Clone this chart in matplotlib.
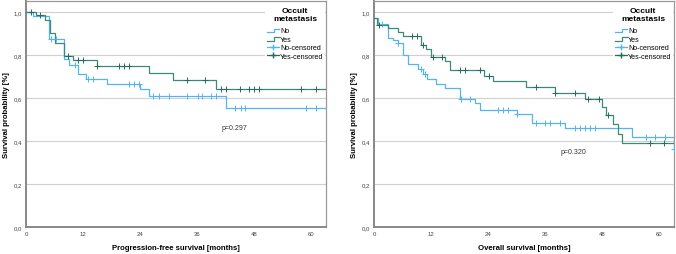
import numpy as np
import matplotlib
matplotlib.use("Agg")
import matplotlib.pyplot as plt
from matplotlib.lines import Line2D
from matplotlib.legend_handler import HandlerBase
from matplotlib.ticker import FuncFormatter

plt.rcParams['font.family'] = ['Liberation Sans', 'DejaVu Sans']

# ---------------- data ----------------
# Progression-free survival
pfs_no_t = [0, 1.5, 4.9, 7.9, 9.0, 11.0, 12.6, 17.0, 24.0, 25.9, 42.1]
pfs_no_s = [1.0, 0.98, 0.875, 0.78, 0.755, 0.71, 0.69, 0.665, 0.64, 0.61, 0.555]
pfs_no_cens = [5.3, 6.3, 10.3, 13.0, 14.2, 21.8, 22.8, 23.8, 26.8, 28.0, 30.2, 34.0,
               36.2, 37.0, 38.9, 40.1, 44.1, 45.2, 46.1, 59.0, 61.0]
pfs_yes_t = [0, 2.1, 4.0, 5.0, 6.1, 8.0, 10.0, 15.0, 26.0, 31.0, 40.1]
pfs_yes_s = [1.0, 0.985, 0.964, 0.90, 0.857, 0.797, 0.777, 0.75, 0.718, 0.685, 0.644]
pfs_yes_cens = [1.0, 3.0, 8.9, 10.9, 12.0, 15.0, 19.6, 20.6, 21.7, 34.0, 37.8,
                41.1, 42.2, 45.0, 47.0, 48.0, 49.1, 58.0, 61.0]
pfs_end = 63.2
pfs_p = "p=0.297"

# Overall survival
os_no_t = [0, 0.8, 2.9, 4.0, 5.1, 6.1, 7.2, 9.2, 10.3, 11.2, 13.1, 15.0, 18.2,
           21.2, 22.3, 30.2, 33.2, 40.3, 54.3, 63.2]
os_no_s = [0.97, 0.945, 0.88, 0.87, 0.855, 0.80, 0.758, 0.733, 0.71, 0.688, 0.665,
           0.645, 0.593, 0.578, 0.546, 0.526, 0.484, 0.459, 0.42, 0.362]
os_no_cens = [1.6, 5.1, 10.0, 10.7, 18.4, 20.2, 26.2, 27.2, 28.2, 30.2, 34.2, 36.0,
              37.0, 39.2, 42.4, 43.5, 44.4, 45.4, 46.5, 57.2, 59.3, 61.2, 63.2]
os_yes_t = [0, 0.7, 3.0, 5.1, 6.2, 9.9, 10.9, 12.1, 15.0, 16.0, 23.1, 25.1, 32.1,
            38.1, 44.4, 48.0, 48.9, 50.3, 51.3, 52.2]
os_yes_s = [0.97, 0.94, 0.924, 0.907, 0.886, 0.845, 0.827, 0.792, 0.774, 0.728,
            0.703, 0.679, 0.650, 0.622, 0.595, 0.557, 0.521, 0.48, 0.433, 0.39]
os_yes_cens = [1.0, 7.9, 9.0, 10.3, 12.4, 14.3, 18.1, 19.2, 22.3, 24.2, 34.2, 38.2,
               42.3, 45.0, 47.3, 49.2, 58.2, 61.0]
os_end = 63.2
os_p = "p=0.320"

xticks = [0, 12, 24, 36, 48, 60]
yticks = [0.0, 0.2, 0.4, 0.6, 0.8, 1.0]
legend_title = "Occult\nmetastasis"
legend_labels = ["No", "Yes", "No-censored", "Yes-censored"]

C_NO = "#56b4ec"
C_YES = "#3b8a7a"
C_YES_C = "#2a6a5c"

# ---------------- helpers ----------------
class StepHandler(HandlerBase):
    def __init__(self, color):
        super().__init__()
        self.color = color

    def create_artists(self, legend, orig_handle, xdescent, ydescent, width, height,
                       fontsize, trans):
        x0 = -xdescent
        xs = [x0, x0 + width * 0.55, x0 + width * 0.55, x0 + width]
        ys = [height * 0.05, height * 0.05, height * 0.75, height * 0.75]
        ln = Line2D(xs, ys, color=self.color, lw=0.9, transform=trans)
        return [ln]


def surv_at(t_arr, s_arr, tc):
    idx = np.searchsorted(np.asarray(t_arr), np.asarray(tc), side='right') - 1
    return np.asarray(s_arr)[idx]


def panel(ax, no_t, no_s, no_c, yes_t, yes_s, yes_c, t_end, ptxt, pxy, xlabel):
    for t, s, c, cc in [(no_t, no_s, no_c, C_NO), (yes_t, yes_s, yes_c, C_YES)]:
        tt = list(t) + [t_end]
        ss = list(s) + [s[-1]]
        ax.step(tt, ss, where='post', color=cc, lw=0.9, zorder=3)
    ax.plot(no_c, surv_at(no_t, no_s, no_c), ls='none', marker='+', ms=4,
            mew=0.7, color=C_NO, zorder=4)
    ax.plot(yes_c, surv_at(yes_t, yes_s, yes_c), ls='none', marker='+', ms=4,
            mew=0.7, color=C_YES_C, zorder=4)

    ax.set_xlim(0, 63.2)
    ax.set_ylim(0, 1.051)
    ax.set_xticks(xticks)
    ax.set_yticks(yticks)
    ax.yaxis.set_major_formatter(FuncFormatter(lambda v, p: f"{v:.1f}".replace('.', ',')))
    ax.tick_params(length=0, labelsize=4.3, colors='#444444', pad=3)
    ax.grid(axis='y', color='#d0d0d0', lw=0.8, zorder=0)
    for side in ['top', 'right']:
        ax.spines[side].set_color('#999999')
        ax.spines[side].set_linewidth(0.9)
    for side in ['left', 'bottom']:
        ax.spines[side].set_color('#888888')
        ax.spines[side].set_linewidth(1.4)
    ax.set_xlabel(xlabel, fontsize=5.6, fontweight='bold', labelpad=6)
    ax.set_ylabel("Survival probability [%]", fontsize=5.6, fontweight='bold', labelpad=2.5)
    ax.text(pxy[0], pxy[1], ptxt, fontsize=5.0, color='#333333', ha='center', va='center')

    handles = [Line2D([], [], color=C_NO), Line2D([], [], color=C_YES),
               Line2D([], [], color=C_NO, marker='+', ms=5, lw=0.9),
               Line2D([], [], color=C_YES_C, marker='+', ms=5, lw=0.9)]
    hmap = {handles[0]: StepHandler(C_NO), handles[1]: StepHandler(C_YES)}
    leg = ax.legend(handles, legend_labels, handler_map=hmap, loc='upper right',
                    bbox_to_anchor=(1.0, 0.985), fontsize=5.1, frameon=True,
                    facecolor='white', edgecolor='none', framealpha=1.0,
                    handlelength=1.8, handletextpad=0.1, labelspacing=0.2,
                    borderpad=0.25, borderaxespad=0.1, title=legend_title,
                    title_fontproperties={'weight': 'bold', 'size': 6.0})
    leg.get_title().set_multialignment('center')
    leg.get_frame().set_linewidth(0)
    leg._legend_box.sep = 4
    leg.set_zorder(5)


fig = plt.figure(figsize=(6.76, 2.55), dpi=100)
ax1 = fig.add_axes([26 / 676, 27 / 255, 300 / 676, 226 / 255])
ax2 = fig.add_axes([374 / 676, 27 / 255, 300 / 676, 226 / 255])

panel(ax1, pfs_no_t, pfs_no_s, pfs_no_cens, pfs_yes_t, pfs_yes_s, pfs_yes_cens,
      pfs_end, pfs_p, (44, 0.465), "Progression-free survival [months]")
panel(ax2, os_no_t, os_no_s, os_no_cens, os_yes_t, os_yes_s, os_yes_cens,
      os_end, os_p, (42, 0.353), "Overall survival [months]")

fig.savefig("out.png", dpi=100, facecolor='white')
